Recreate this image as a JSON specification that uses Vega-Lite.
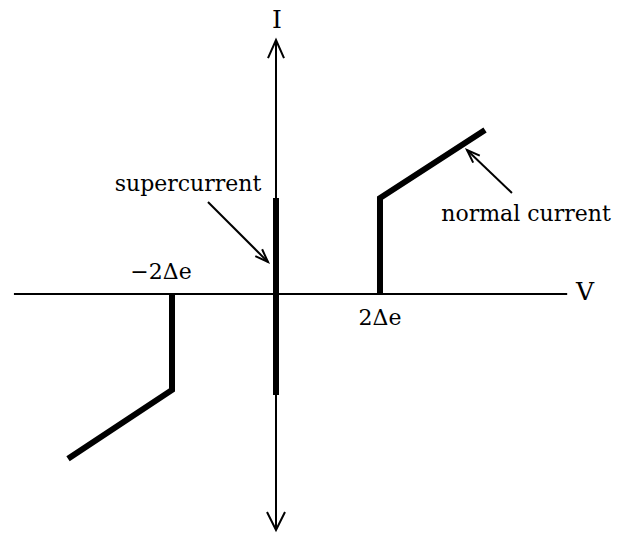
{
  "$schema": "https://vega.github.io/schema/vega-lite/v6.json",
  "width": 617,
  "height": 533,
  "padding": 0,
  "autosize": {"type": "none"},
  "background": "white",
  "config": {"view": {"stroke": null}},
  "datasets": {
    "thin": [
      {"seg": "haxis", "k": 1, "V": -5.04, "I": 0},
      {"seg": "haxis", "k": 2, "V": 5.60, "I": 0},
      {"seg": "vaxis", "k": 1, "V": 0, "I": 4.885},
      {"seg": "vaxis", "k": 2, "V": 0, "I": -4.538},
      {"seg": "uphead", "k": 1, "V": -0.154, "I": 4.538},
      {"seg": "uphead", "k": 2, "V": 0, "I": 4.885},
      {"seg": "uphead", "k": 3, "V": 0.154, "I": 4.538},
      {"seg": "downhead", "k": 1, "V": -0.173, "I": -4.192},
      {"seg": "downhead", "k": 2, "V": 0, "I": -4.538},
      {"seg": "downhead", "k": 3, "V": 0.173, "I": -4.192},
      {"seg": "superarrow", "k": 1, "V": -1.308, "I": 1.769},
      {"seg": "superarrow", "k": 2, "V": -0.154, "I": 0.615},
      {"seg": "superhead", "k": 1, "V": -0.267, "I": 0.860},
      {"seg": "superhead", "k": 2, "V": -0.154, "I": 0.615},
      {"seg": "superhead", "k": 3, "V": -0.398, "I": 0.729},
      {"seg": "normalarrow", "k": 1, "V": 4.538, "I": 1.942},
      {"seg": "normalarrow", "k": 2, "V": 3.673, "I": 2.769},
      {"seg": "normalhead", "k": 1, "V": 3.792, "I": 2.527},
      {"seg": "normalhead", "k": 2, "V": 3.673, "I": 2.769},
      {"seg": "normalhead", "k": 3, "V": 3.919, "I": 2.662}
    ],
    "thick": [
      {"seg": "super", "k": 1, "V": 0, "I": 1.846},
      {"seg": "super", "k": 2, "V": 0, "I": -1.942},
      {"seg": "right", "k": 1, "V": 2.0, "I": 0},
      {"seg": "right", "k": 2, "V": 2.0, "I": 1.846},
      {"seg": "right", "k": 3, "V": 4.02, "I": 3.154},
      {"seg": "left", "k": 1, "V": -2.0, "I": 0},
      {"seg": "left", "k": 2, "V": -2.0, "I": -1.846},
      {"seg": "left", "k": 3, "V": -4.0, "I": -3.17}
    ],
    "labels": [
      {"text": "supercurrent", "V": -1.692, "I": 2.115},
      {"text": "normal current", "V": 4.808, "I": 1.538},
      {"text": "−2Δe", "V": -2.212, "I": 0.423},
      {"text": "2Δe", "V": 2.0, "I": -0.462}
    ],
    "axisnames": [
      {"text": "I", "V": 0.019, "I": 5.269},
      {"text": "V", "V": 5.942, "I": 0.04}
    ]
  },
  "layer": [
    {
      "data": {"name": "thin"},
      "mark": {"type": "line", "color": "black", "strokeWidth": 2, "strokeCap": "butt"},
      "encoding": {
        "x": {"field": "V", "type": "quantitative", "scale": {"domain": [-5.308, 6.558], "nice": false, "zero": false}, "axis": null},
        "y": {"field": "I", "type": "quantitative", "scale": {"domain": [-4.596, 5.654], "nice": false, "zero": false}, "axis": null},
        "detail": {"field": "seg", "type": "nominal"},
        "order": {"field": "k", "type": "quantitative"}
      }
    },
    {
      "data": {"name": "thick"},
      "mark": {"type": "line", "color": "black", "strokeWidth": 6, "strokeCap": "butt", "strokeJoin": "miter"},
      "encoding": {
        "x": {"field": "V", "type": "quantitative"},
        "y": {"field": "I", "type": "quantitative"},
        "detail": {"field": "seg", "type": "nominal"},
        "order": {"field": "k", "type": "quantitative"}
      }
    },
    {
      "data": {"name": "labels"},
      "mark": {"type": "text", "font": "DejaVu Serif", "fontSize": 22, "fontWeight": 500, "align": "center", "baseline": "middle", "color": "black"},
      "encoding": {
        "x": {"field": "V", "type": "quantitative"},
        "y": {"field": "I", "type": "quantitative"},
        "text": {"field": "text", "type": "nominal"}
      }
    },
    {
      "data": {"name": "axisnames"},
      "mark": {"type": "text", "font": "DejaVu Serif", "fontSize": 25, "align": "center", "baseline": "middle", "color": "black"},
      "encoding": {
        "x": {"field": "V", "type": "quantitative"},
        "y": {"field": "I", "type": "quantitative"},
        "text": {"field": "text", "type": "nominal"}
      }
    }
  ]
}
